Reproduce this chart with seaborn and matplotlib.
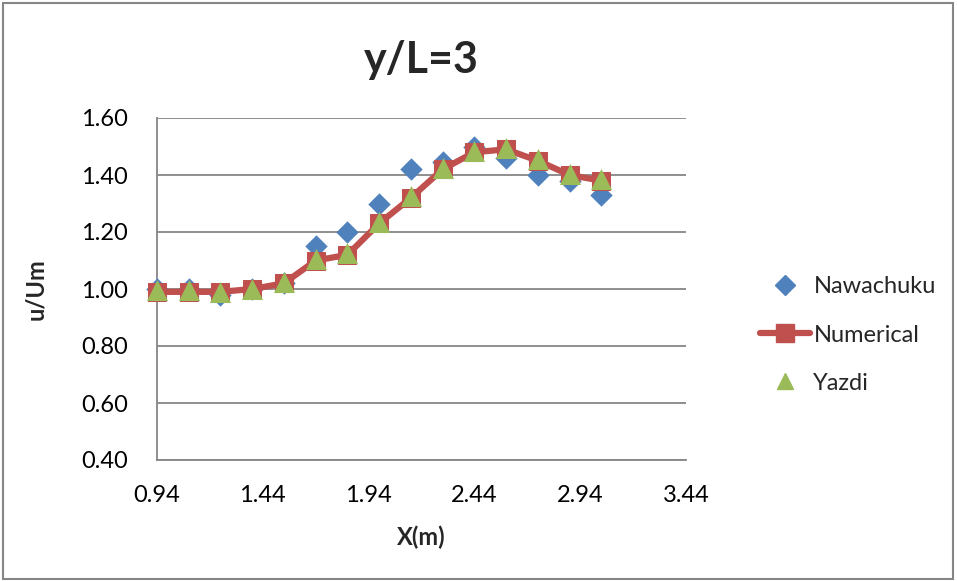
import matplotlib
matplotlib.use("Agg")
import matplotlib.pyplot as plt
import seaborn as sns
import pandas as pd
from matplotlib.patches import Rectangle
from matplotlib.lines import Line2D

x_vals = [0.94, 1.09, 1.24, 1.39, 1.54, 1.69, 1.84, 1.99, 2.14, 2.29, 2.44, 2.59, 2.74, 2.89, 3.04]
nawachuku = [1.00, 1.00, 0.98, 1.00, 1.02, 1.15, 1.20, 1.30, 1.42, 1.445, 1.50, 1.46, 1.40, 1.38, 1.33]
numerical = [0.99, 0.99, 0.99, 1.00, 1.02, 1.10, 1.12, 1.23, 1.32, 1.42, 1.48, 1.49, 1.45, 1.40, 1.38]
yazdi = [0.995, 0.995, 0.99, 1.00, 1.025, 1.105, 1.125, 1.235, 1.325, 1.425, 1.485, 1.495, 1.455, 1.405, 1.385]
x_ticks = [0.94, 1.44, 1.94, 2.44, 2.94, 3.44]
y_ticks = [0.40, 0.60, 0.80, 1.00, 1.20, 1.40, 1.60]

sns.set_theme(style="white")
plt.rcParams['font.family'] = ['Lato', 'DejaVu Sans']

df = pd.DataFrame({"x": x_vals, "Nawachuku": nawachuku, "Numerical": numerical, "Yazdi": yazdi})

fig = plt.figure(figsize=(9.57, 5.81), dpi=100)
ax = fig.add_axes([157/957, 1-460/581, (686-157)/957, (460-118)/581])

blue = "#4F81BD"
red = "#C0504D"
green = "#9BBB59"

sns.scatterplot(data=df, x="x", y="Nawachuku", ax=ax, marker="D", s=130, color=blue,
                edgecolor=blue, linewidth=0, zorder=3, clip_on=False)
sns.lineplot(data=df, x="x", y="Numerical", ax=ax, color=red, linewidth=4.5, marker="s",
             markersize=13, markeredgecolor=red, markerfacecolor=red, zorder=4, clip_on=False)
sns.scatterplot(data=df, x="x", y="Yazdi", ax=ax, marker="^", s=230, color=green,
                edgecolor=green, linewidth=0, zorder=5, clip_on=False)

ax.set_xlim(0.94, 3.44)
ax.set_ylim(0.40, 1.60)
ax.set_xticks(x_ticks)
ax.set_xticklabels([f"{v:.2f}" for v in x_ticks], fontsize=17)
ax.set_yticks(y_ticks)
ax.set_yticklabels([f"{v:.2f}" for v in y_ticks], fontsize=17)
ax.yaxis.grid(True, color="#868686", linewidth=1.3)
ax.xaxis.grid(False)
for s in ["top", "right"]:
    ax.spines[s].set_visible(False)
for s in ["left", "bottom"]:
    ax.spines[s].set_color("#868686")
    ax.spines[s].set_linewidth(1.3)
ax.tick_params(axis="x", direction="in", length=7, width=1.3, color="#868686", pad=18, labelcolor="black")
ax.tick_params(axis="y", length=0, pad=21, labelcolor="black")
ax.set_xlabel("X(m)", fontsize=17, fontweight="bold", labelpad=14)
ax.set_ylabel("u/Um", fontsize=17, fontweight="bold", labelpad=24)
fig.text((157+686)/2/957, 1-60/581, "y/L=3", ha="center", va="center", fontsize=31, fontweight="bold")

handles = [
    Line2D([], [], marker="D", linestyle="none", color=blue, markersize=10),
    Line2D([], [], marker="s", linestyle="-", color=red, markersize=13, linewidth=4.5),
    Line2D([], [], marker="^", linestyle="none", color=green, markersize=12),
]
fig.legend(handles, ["Nawachuku", "Numerical", "Yazdi"], loc="center left",
           bbox_to_anchor=(739/957, 1-335/581), frameon=False, fontsize=17,
           handlelength=2.1, handletextpad=0.15, labelspacing=1.15)

fig.patches.append(Rectangle((3/957, 2/581), 1-7/957, 1-5/581, transform=fig.transFigure,
                             fill=False, edgecolor="#868686", linewidth=1.5))

fig.savefig("out.png", dpi=100)
